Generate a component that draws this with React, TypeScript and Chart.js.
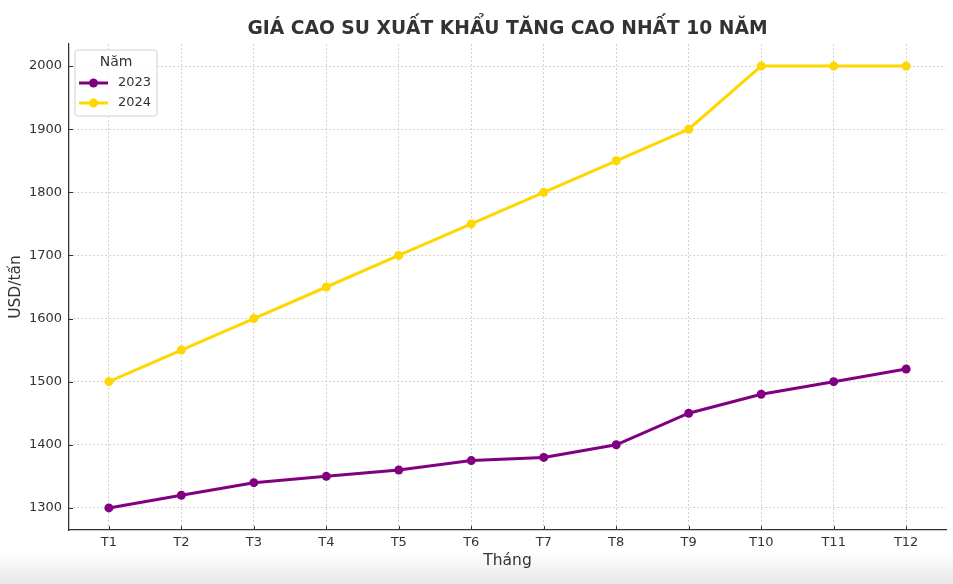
import React, { useEffect, useRef } from "react";
import { Chart, registerables } from "chart.js";

Chart.register(...registerables);

const months = ["T1", "T2", "T3", "T4", "T5", "T6", "T7", "T8", "T9", "T10", "T11", "T12"];
const series2023 = [1300, 1320, 1340, 1350, 1360, 1375, 1380, 1400, 1450, 1480, 1500, 1520];
const series2024 = [1500, 1550, 1600, 1650, 1700, 1750, 1800, 1850, 1900, 2000, 2000, 2000];
const yTicks = [1300, 1400, 1500, 1600, 1700, 1800, 1900, 2000];
const seriesNames = ["2023", "2024"];
const seriesColors = ["#800080", "#FFD700"];

const TITLE = "GIÁ CAO SU XUẤT KHẨU TĂNG CAO NHẤT 10 NĂM";
const X_TITLE = "Tháng";
const Y_TITLE = "USD/tấn";
const LEGEND_TITLE = "Năm";
const FONT = "'DejaVu Sans', sans-serif";
const TEXT = "#333333";

const overlay = {
  id: "overlay",
  afterDraw(chart: any) {
    const ctx = chart.ctx as CanvasRenderingContext2D;
    const area = chart.chartArea;
    const xs = chart.scales.x;
    const ys = chart.scales.y;
    ctx.save();
    // inward ticks
    ctx.strokeStyle = TEXT;
    ctx.lineWidth = 1;
    months.forEach((_, i) => {
      const px = Math.round(xs.getPixelForValue(i)) + 0.5;
      ctx.beginPath();
      ctx.moveTo(px, area.bottom);
      ctx.lineTo(px, area.bottom - 4);
      ctx.stroke();
    });
    yTicks.forEach((v) => {
      const py = Math.round(ys.getPixelForValue(v)) + 0.5;
      ctx.beginPath();
      ctx.moveTo(area.left, py);
      ctx.lineTo(area.left + 4, py);
      ctx.stroke();
    });
    // title
    ctx.fillStyle = TEXT;
    ctx.textAlign = "center";
    ctx.textBaseline = "middle";
    ctx.font = `bold 18.7px ${FONT}`;
    ctx.fillText(TITLE, (area.left + area.right) / 2, 29);
    // axis titles
    ctx.font = `15.5px ${FONT}`;
    ctx.fillText(X_TITLE, (area.left + area.right) / 2, 561);
    ctx.save();
    ctx.translate(16, (area.top + area.bottom) / 2);
    ctx.rotate(-Math.PI / 2);
    ctx.fillText(Y_TITLE, 0, 0);
    ctx.restore();
    // legend
    const lx = 75, ly = 50, lw = 82, lh = 66, r = 3;
    ctx.beginPath();
    ctx.moveTo(lx + r, ly);
    ctx.lineTo(lx + lw - r, ly);
    ctx.quadraticCurveTo(lx + lw, ly, lx + lw, ly + r);
    ctx.lineTo(lx + lw, ly + lh - r);
    ctx.quadraticCurveTo(lx + lw, ly + lh, lx + lw - r, ly + lh);
    ctx.lineTo(lx + r, ly + lh);
    ctx.quadraticCurveTo(lx, ly + lh, lx, ly + lh - r);
    ctx.lineTo(lx, ly + r);
    ctx.quadraticCurveTo(lx, ly, lx + r, ly);
    ctx.closePath();
    ctx.fillStyle = "rgba(255,255,255,0.85)";
    ctx.fill();
    ctx.strokeStyle = "#d0d0d0";
    ctx.lineWidth = 1;
    ctx.stroke();
    ctx.fillStyle = TEXT;
    ctx.font = `14px ${FONT}`;
    ctx.textAlign = "center";
    ctx.fillText(LEGEND_TITLE, lx + 41, 62);
    ctx.font = `13px ${FONT}`;
    seriesNames.forEach((name, i) => {
      const yy = 83 + i * 20;
      ctx.strokeStyle = seriesColors[i];
      ctx.lineWidth = 3;
      ctx.beginPath();
      ctx.moveTo(79, yy);
      ctx.lineTo(108, yy);
      ctx.stroke();
      ctx.fillStyle = seriesColors[i];
      ctx.beginPath();
      ctx.arc(93.5, yy, 4.5, 0, Math.PI * 2);
      ctx.fill();
      ctx.fillStyle = TEXT;
      ctx.textAlign = "left";
      ctx.fillText(name, 118, yy);
    });
    ctx.restore();
  },
};

export default function App() {
  const ref = useRef<HTMLCanvasElement | null>(null);
  useEffect(() => {
    if (!ref.current) return;
    const mk = (vals: number[]) => vals.map((v, i) => ({ x: i, y: v }));
    const chart = new Chart(ref.current, {
      type: "line",
      data: {
        datasets: [
          {
            label: seriesNames[0],
            data: mk(series2023),
            borderColor: seriesColors[0],
            backgroundColor: seriesColors[0],
            borderWidth: 3,
            pointRadius: 4.5,
            pointBorderWidth: 0,
            tension: 0,
          },
          {
            label: seriesNames[1],
            data: mk(series2024),
            borderColor: seriesColors[1],
            backgroundColor: seriesColors[1],
            borderWidth: 3,
            pointRadius: 4.5,
            pointBorderWidth: 0,
            tension: 0,
          },
        ],
      },
      options: {
        responsive: false,
        animation: false,
        devicePixelRatio: 1,
        layout: { padding: { top: 44, right: 7, left: 0, bottom: 0 } },
        plugins: { legend: { display: false }, title: { display: false }, tooltip: { enabled: false } },
        scales: {
          x: {
            type: "linear",
            min: -0.55,
            max: 11.55,
            afterBuildTicks: (s: any) => {
              s.ticks = months.map((_, i) => ({ value: i }));
            },
            afterFit: (s: any) => {
              s.height = 54;
            },
            ticks: {
              callback: (v: any) => months[Math.round(Number(v))] ?? "",
              color: TEXT,
              font: { family: FONT, size: 13 },
              padding: 5,
              maxRotation: 0,
              autoSkip: false,
            },
            grid: { color: "#d2d2d2", drawTicks: false },
            border: { display: true, color: "#333333", width: 1.25, dash: [2, 2] },
          },
          y: {
            type: "linear",
            min: 1265,
            max: 2035,
            afterBuildTicks: (s: any) => {
              s.ticks = yTicks.map((v) => ({ value: v }));
            },
            afterFit: (s: any) => {
              s.width = 69;
            },
            ticks: {
              callback: (v: any) => String(v),
              color: TEXT,
              font: { family: FONT, size: 13 },
              padding: 7,
            },
            grid: { color: "#d2d2d2", drawTicks: false },
            border: { display: true, color: "#333333", width: 1.25, dash: [2, 2] },
          },
        },
      } as any,
      plugins: [overlay],
    });
    return () => chart.destroy();
  }, []);
  return (
    <div
      style={{
        position: "fixed",
        left: 0,
        top: 0,
        width: 953,
        height: 584,
        background: "linear-gradient(to bottom, #ffffff 0px, #ffffff 552px, #f0f0f0 572px, #e8e8e8 584px)",
      }}
    >
      <canvas ref={ref} width={953} height={584} style={{ display: "block" }} />
    </div>
  );
}
